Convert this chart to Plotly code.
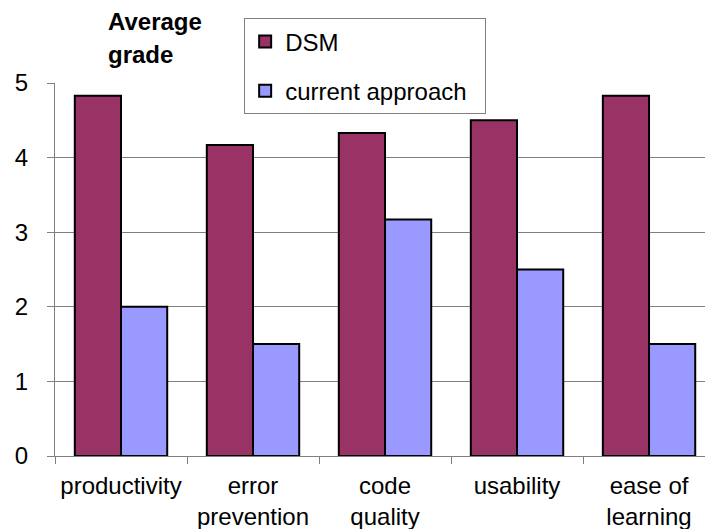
import plotly.graph_objects as go

categories = ["productivity", "error<br>prevention", "code<br>quality", "usability", "ease of<br>learning"]
dsm_values = [4.83, 4.17, 4.33, 4.5, 4.83]
current_values = [2.0, 1.5, 3.17, 2.5, 1.5]
y_ticks = [0, 1, 2, 3, 4, 5]

FONT = "Arial, 'Liberation Sans', sans-serif"

fig = go.Figure()
fig.add_trace(go.Bar(
    x=categories, y=dsm_values, name="DSM", legendgroup="dsm",
    marker=dict(color="#993366", line=dict(color="#000000", width=2)),
))
fig.add_trace(go.Bar(
    x=categories, y=current_values, name="current approach\u00a0\u00a0", legendgroup="cur",
    marker=dict(color="#9999FF", line=dict(color="#000000", width=2)),
))

fig.update_layout(
    width=705, height=529,
    margin=dict(l=55, r=0, t=83, b=73),
    paper_bgcolor="white", plot_bgcolor="white",
    font=dict(family=FONT, size=24, color="#000000"),
    barmode="group", bargap=0.30, bargroupgap=0,
    showlegend=True,
    legend=dict(
        x=0.291, y=1.173, xanchor="left", yanchor="top",
        bgcolor="white", bordercolor="#808080", borderwidth=1,
        font=dict(family=FONT, size=24),
        tracegroupgap=15, traceorder="grouped",
    ),
    xaxis=dict(
        range=[-0.5, 4.424],
        showline=True, linecolor="#808080", linewidth=1,
        ticks="outside", tickson="boundaries", ticklen=7, tickcolor="#808080",
        showgrid=False, tickfont=dict(size=24),
        ticklabelstandoff=8,
    ),
    yaxis=dict(
        range=[0, 5], tickvals=y_ticks,
        showline=True, linecolor="#808080", linewidth=1,
        ticks="outside", ticklen=7, tickcolor="#808080",
        showgrid=True, gridcolor="#808080", gridwidth=1,
        zeroline=False, tickfont=dict(size=24),
        ticklabelstandoff=14,
    ),
)

fig.add_annotation(text="<b>Average</b>", xref="paper", yref="paper",
                   x=(106 - 55) / 650, y=(456 - 22) / 373, xanchor="left", yanchor="middle",
                   showarrow=False, font=dict(size=24))
fig.add_annotation(text="<b>grade</b>", xref="paper", yref="paper",
                   x=(106 - 55) / 650, y=(456 - 55) / 373, xanchor="left", yanchor="middle",
                   showarrow=False, font=dict(size=24))

fig.write_html("out.html")
